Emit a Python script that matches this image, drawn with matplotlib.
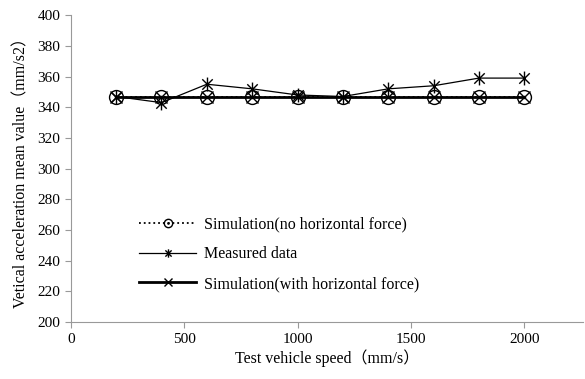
import matplotlib
matplotlib.use('Agg')
import matplotlib.pyplot as plt
from matplotlib.path import Path

# data
speed = [200, 400, 600, 800, 1000, 1200, 1400, 1600, 1800, 2000]
sim_no_force = [346.5] * 10
measured = [347, 343, 355, 352, 348, 347, 352, 354, 359, 359]
sim_with_force = [346.5] * 10

x_ticks = [0, 500, 1000, 1500, 2000]
y_ticks = list(range(200, 401, 20))

plt.rcParams['font.family'] = ['Liberation Serif', 'DejaVu Serif']

# asterisk marker: vertical stroke + an x
star = Path([(0, -1), (0, 1), (-0.75, -0.75), (0.75, 0.75), (-0.75, 0.75), (0.75, -0.75)],
            [Path.MOVETO, Path.LINETO] * 3)
# circle with a small dot in the middle
odot = Path.make_compound_path(Path.unit_circle(), Path.circle(radius=0.15))

fig = plt.figure(figsize=(5.85, 3.79), dpi=100)
ax = fig.add_axes([0.121, 0.150, 0.876, 0.810])

ax.plot(speed, sim_no_force, color='black', linestyle=':', linewidth=1.3,
        marker=odot, markersize=10, markerfacecolor='none', markeredgewidth=1.0,
        label='Simulation(no horizontal force)')
ax.plot(speed, measured, color='black', linestyle='-', linewidth=0.9,
        marker=star, markersize=10, markeredgewidth=1.0, label='Measured data')
ax.plot(speed, sim_with_force, color='black', linestyle='-', linewidth=2.0,
        marker='x', markersize=9, markeredgewidth=1.0,
        label='Simulation(with horizontal force)')

ax.set_xlim(0, 2260)
ax.set_ylim(200, 400)
ax.set_xticks(x_ticks)
ax.set_yticks(y_ticks)
ax.tick_params(axis='both', labelsize=11, color='#999999', length=4, direction='out')

for s in ['top', 'right']:
    ax.spines[s].set_visible(False)
for s in ['left', 'bottom']:
    ax.spines[s].set_color('#999999')

ax.set_xlabel('Test vehicle speed\uff08mm/s\uff09', fontsize=11.5, labelpad=3,
              family=['Liberation Serif', 'Noto Sans CJK SC'])
ax.set_ylabel('Vetical acceleration mean value\uff08mm/s2\uff09', fontsize=11.5, labelpad=6,
              family=['Liberation Serif', 'Noto Sans CJK SC'])

leg = ax.legend(loc='upper left', bbox_to_anchor=(0.105, 0.39), frameon=False,
                fontsize=11.5, handlelength=3.6, labelspacing=0.85, handletextpad=0.5,
                markerscale=0.6)

fig.savefig('out.png', dpi=100)
